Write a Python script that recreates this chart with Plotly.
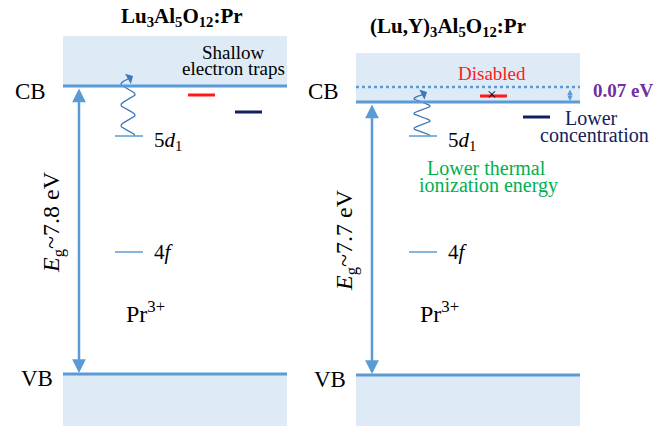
import numpy as np
import plotly.graph_objects as go

# ---- diagram data (diagram units: x to the right, y downward) ----
panel_titles = ["Lu<sub>3</sub>Al<sub>5</sub>O<sub>12</sub>:Pr",
                "(Lu,Y)<sub>3</sub>Al<sub>5</sub>O<sub>12</sub>:Pr"]
title_pos = [(182, 17), (448, 27)]
band_x0 = [63, 356]
band_x1 = [287, 580]
band_top = [36, 53]          # top of conduction-band shading
cb_level = [86, 102]         # conduction band edge
vb_level = [374, 375]        # valence band edge
band_bottom = 426
gap_labels = ["<i>E</i><sub>g</sub>~7.8 eV", "<i>E</i><sub>g</sub>~7.7 eV"]
gap_arrow_x = [79, 372]
gap_label_pos = [(53, 222), (346, 240)]
edge_label_x = [30, 323]
edge_label_cb_y = [91, 91]

level_x0 = [115, 409]
level_len = 28
level_5d = [136, 136]
level_4f = [252, 252]
pr_label_y = 312

# shallow electron traps: (x start, y)
trap_red = [(188, 95), (480, 96)]
trap_navy = [(235, 112), (523, 117)]
trap_len = 27

# lowered conduction band edge in the mixed garnet
cb_shifted = 87
shift_label = "0.07 eV"
shift_arrow_x = 570

# wavy thermal-ionization path: centre x, amplitude, top y
wave_cx = [128, 422]
wave_amp = [7, 8]
wave_top = [79, 95]

LINE = "#5b9bd5"
FILL = "#deebf7"
WAVE = "#3d78b8"
RED = "#ff1a1a"
NAVY = "#12215e"
GREEN = "#00b050"
PURPLE = "#7030a0"
FONT = "Liberation Serif, Times New Roman, serif"


def txt(x, y, text, size, color="#000000", **kw):
    d = dict(x=x, y=y, xref="x", yref="y", text=text, showarrow=False,
             font=dict(family=FONT, size=size, color=color))
    d.update(kw)
    return d


fig = go.Figure()
shapes = []
ann = []

for i in range(2):
    x0, x1 = band_x0[i], band_x1[i]
    # band shading
    shapes.append(dict(type="rect", x0=x0, x1=x1, y0=band_top[i], y1=cb_level[i],
                       fillcolor=FILL, line_width=0, layer="below"))
    shapes.append(dict(type="rect", x0=x0, x1=x1, y0=vb_level[i], y1=band_bottom,
                       fillcolor=FILL, line_width=0, layer="below"))
    # band edges
    for yv in (cb_level[i], vb_level[i]):
        shapes.append(dict(type="line", x0=x0, x1=x1, y0=yv, y1=yv,
                           line=dict(color=LINE, width=3)))
    # Pr levels
    for yv in (level_5d[i], level_4f[i]):
        shapes.append(dict(type="line", x0=level_x0[i], x1=level_x0[i] + level_len,
                           y0=yv, y1=yv, line=dict(color=LINE, width=1.5)))
    # traps
    for (tx, ty), col in ((trap_red[i], RED), (trap_navy[i], NAVY)):
        shapes.append(dict(type="line", x0=tx, x1=tx + trap_len, y0=ty, y1=ty,
                           line=dict(color=col, width=3)))

    # band-gap double arrow
    ann.append(dict(x=gap_arrow_x[i], y=vb_level[i] - 1, ax=gap_arrow_x[i],
                    ay=cb_level[i] + 1, xref="x", yref="y", axref="x", ayref="y",
                    text="", showarrow=True, arrowhead=2, arrowside="end+start",
                    arrowsize=1.1, arrowwidth=2.5, arrowcolor=LINE, standoff=0,
                    startstandoff=0, startarrowhead=2, startarrowsize=1.1,
                    font=dict(family=FONT, size=12)))
    ann.append(txt(gap_label_pos[i][0], gap_label_pos[i][1], gap_labels[i], 24,
                   textangle=-90))

    # edge labels
    ann.append(txt(edge_label_x[i], edge_label_cb_y[i], "CB", 23))
    ann.append(txt(edge_label_x[i] + 7, vb_level[i] + 4, "VB", 23))

    # titles
    ann.append(txt(title_pos[i][0], title_pos[i][1], "<b>" + panel_titles[i] + "</b>", 21))

    # level labels
    lx = level_x0[i] + level_len + 9
    ann.append(txt(lx, level_5d[i] + 5, "5<i>d</i><sub>1</sub>", 21, xanchor="left"))
    ann.append(txt(lx, level_4f[i], "4<i>f</i>", 21, xanchor="left"))
    ann.append(txt(level_x0[i] + 30, pr_label_y, "Pr<sup>3+</sup>", 24))

    # thermal ionization wave from 5d1 into the conduction band
    s = np.linspace(0, 1, 200)
    ys = level_5d[i] + (wave_top[i] - level_5d[i]) * s
    xs = wave_cx[i] + wave_amp[i] * np.cos(2 * np.pi * 2.75 * s)
    fig.add_trace(go.Scatter(x=xs, y=ys, mode="lines", line=dict(color=WAVE, width=1.3),
                             hoverinfo="skip", showlegend=False))
    ann.append(dict(x=xs[-1] + 5, y=ys[-1] - 3, ax=xs[-4], ay=ys[-4], xref="x", yref="y",
                    axref="x", ayref="y", text="", showarrow=True, arrowhead=1,
                    arrowsize=1.5, arrowwidth=1.3, arrowcolor=WAVE, standoff=0,
                    font=dict(family=FONT, size=12)))

# left panel trap note
ann.append(txt(233, 52, "Shallow", 19))
ann.append(txt(233, 68, "electron traps", 19))

# right panel: shifted conduction band edge
shapes.append(dict(type="line", x0=band_x0[1], x1=band_x1[1], y0=cb_shifted, y1=cb_shifted,
                   line=dict(color=LINE, width=2.5, dash="dot")))
ann.append(dict(x=shift_arrow_x, y=cb_level[1] - 1, ax=shift_arrow_x, ay=cb_shifted + 1,
                xref="x", yref="y", axref="x", ayref="y", text="", showarrow=True,
                arrowhead=2, arrowside="end+start", arrowsize=0.9, arrowwidth=1.2,
                arrowcolor=LINE, standoff=0, startstandoff=0,
                font=dict(family=FONT, size=12)))
ann.append(txt(591, 90, "<b>" + shift_label + "</b>", 19, PURPLE, xanchor="left"))
ann.append(txt(492, 73, "Disabled", 19, RED))
ann.append(txt(492, 94, "×", 17))
ann.append(txt(591, 118, "Lower", 20, NAVY))
ann.append(txt(594, 135, "concentration", 20, NAVY))
ann.append(txt(486, 168, "Lower thermal", 20, GREEN))
ann.append(txt(488, 185, "ionization energy", 20, GREEN))

fig.update_layout(
    width=664, height=426,
    margin=dict(l=0, r=0, t=0, b=0),
    paper_bgcolor="white", plot_bgcolor="white",
    font=dict(family=FONT, size=20, color="#000000"),
    xaxis=dict(range=[0, 664], visible=False, fixedrange=True),
    yaxis=dict(range=[426, 0], visible=False, fixedrange=True),
    shapes=shapes, annotations=ann, showlegend=False,
)

fig.write_html("out.html")
